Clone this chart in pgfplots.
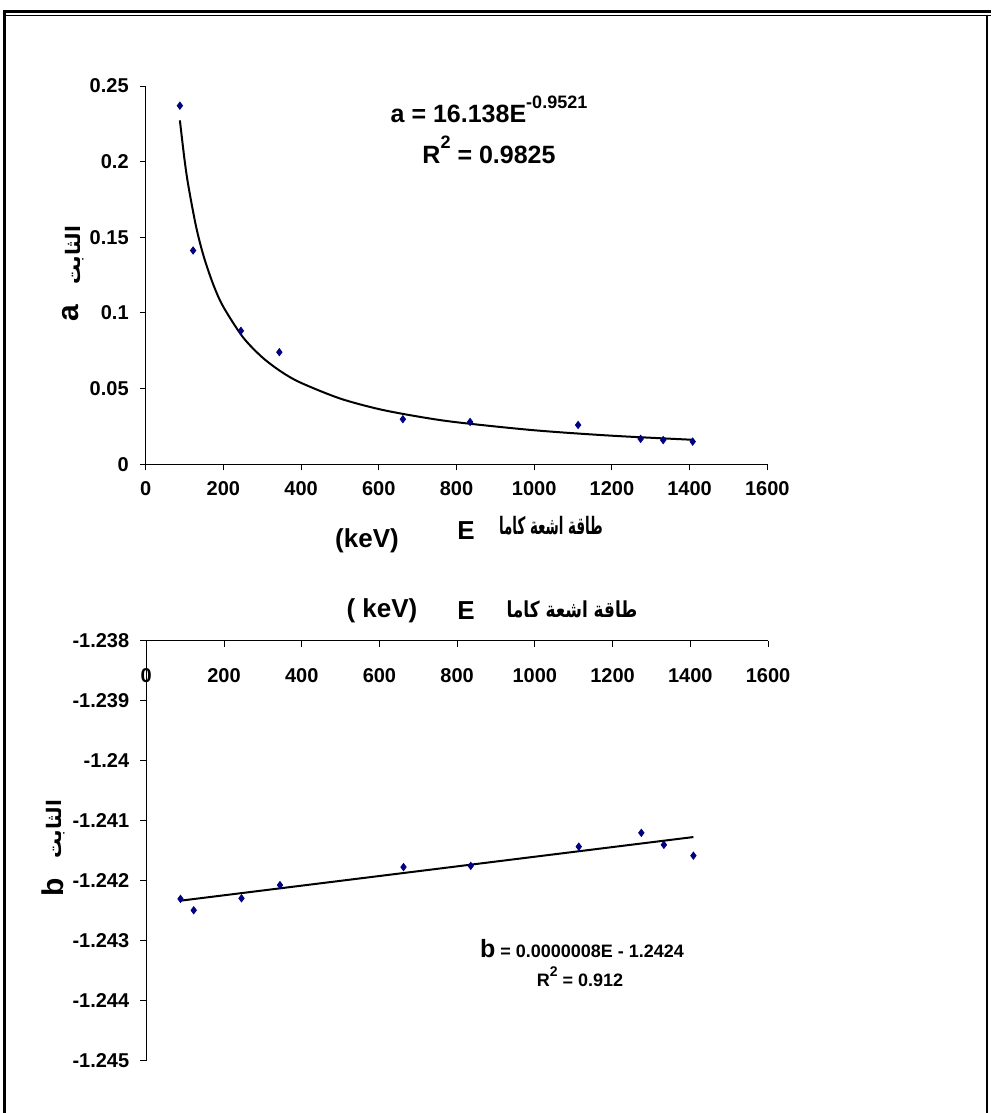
\documentclass[border=0pt]{standalone}
\usepackage{fontspec}
\setmainfont{Liberation Sans}
\newfontfamily\arabicfont[Script=Arabic]{DejaVu Sans}
\TeXXeTstate=1
\usepackage{graphicx}
\usepackage{pgfplots}
\pgfplotsset{compat=1.18}
\definecolor{navy}{RGB}{0,0,128}

\pgfplotsset{
  excel/.style={
    scale only axis,
    axis line style={line width=0.5pt},
    tick style={black, line width=0.5pt},
    major tick length=3pt,
    tick label style={font=\fontsize{10}{11}\selectfont\bfseries},
    /pgf/number format/assume math mode=true,
    xmin=0, xmax=1600,
    xtick={0,200,...,1600},
    xticklabels={0,200,400,600,800,1000,1200,1400,1600},
    clip=false,
  },
  pts/.style={only marks, mark=diamond*, mark size=1.8pt, color=navy},
  trend/.style={black, line width=1pt, mark=none},
}

\begin{document}
\begin{tikzpicture}[x=0.5pt,y=-0.5pt]
\path[use as bounding box] (0,0) rectangle (991,1113);
% frame
\draw[line width=1.6pt] (3,11.5) -- (991,11.5);
\draw[line width=0.5pt] (6,15.3) -- (991,15.3);
\draw[line width=1.6pt] (4.8,10) -- (4.8,1113);
\draw[line width=0.7pt] (987,15) -- (987,1113);

% upper chart: a vs E
\begin{axis}[excel,
  at={(72.85pt,-232.15pt)}, anchor=south west,
  width=310.8pt, height=189.15pt,
  axis x line*=bottom, axis y line*=left,
  ymin=0, ymax=0.25,
  ytick={0,0.05,0.1,0.15,0.2,0.25},
  yticklabels={0,0.05,0.1,0.15,0.2,0.25},
  tick align=outside,
  xticklabel style={yshift=-2pt},
  yticklabel style={xshift=-2pt},
]
\addplot[trend, smooth] coordinates {
  (88,0.2273) (100,0.2012) (110,0.1838) (130,0.1567) (150,0.1368)
  (175,0.1181) (200,0.1040) (250,0.0841) (300,0.0707) (350,0.0610)
  (400,0.0538) (500,0.0435) (600,0.0365) (700,0.0316) (800,0.0278)
  (1000,0.0225) (1200,0.0189) (1408,0.0162)};
\addplot[pts] coordinates {
  (88,0.237) (122,0.1413) (245,0.0882) (344,0.0741) (662,0.0298)
  (835,0.028) (1113,0.026) (1274,0.0168) (1332,0.016) (1408,0.015)};
\end{axis}

% lower chart: b vs E
\begin{axis}[excel,
  at={(73.15pt,-320.35pt)}, anchor=north west,
  width=310.85pt, height=210.15pt,
  axis x line*=top, axis y line*=left,
  ymin=-1.245, ymax=-1.238,
  ytick={-1.245,-1.244,-1.243,-1.242,-1.241,-1.24,-1.239,-1.238},
  yticklabels={-1.245,-1.244,-1.243,-1.242,-1.241,-1.24,-1.239,-1.238},
  ytick align=outside, xtick align=inside,
  xticklabel style={anchor=north, yshift=-10.5pt},
  yticklabel style={xshift=-2pt},
]
\addplot[trend] coordinates {(88,-1.24233) (1408,-1.24127)};
\addplot[pts] coordinates {
  (88,-1.2423) (122,-1.24249) (245,-1.24229) (344,-1.24207) (662,-1.24177)
  (835,-1.24175) (1113,-1.24143) (1274,-1.2412) (1332,-1.2414) (1408,-1.24158)};
\end{axis}

% equation labels
\node[anchor=base, font=\fontsize{12.5}{14}\selectfont\bfseries] at (489,123)
  {a = 16.138E\raisebox{1.1ex}{\fontsize{9}{10}\selectfont -0.9521}};
\node[anchor=base, font=\fontsize{12.5}{14}\selectfont\bfseries] at (489,163)
  {R\raisebox{1.1ex}{\fontsize{9}{10}\selectfont 2} = 0.9825};
\node[anchor=base, font=\fontsize{9}{11}\selectfont\bfseries] at (582,957)
  {{\fontsize{12.5}{14}\selectfont b} = 0.0000008E - 1.2424};
\node[anchor=base, font=\fontsize{9}{11}\selectfont\bfseries] at (580,986)
  {R\raisebox{1ex}{\fontsize{7}{8}\selectfont 2} = 0.912};

% axis titles
\node[font=\fontsize{13}{15}\selectfont\bfseries] at (367,541) {(keV)};
\node[font=\fontsize{13}{15}\selectfont\bfseries] at (466,531) {E};
\node[font=\fontsize{12}{14}\selectfont\bfseries] at (551,526)
  {\scalebox{0.56}[1]{\arabicfont\beginR طاقة اشعة كاما\endR}};

\node[font=\fontsize{13}{15}\selectfont\bfseries] at (382,611) {( keV)};
\node[font=\fontsize{13}{15}\selectfont\bfseries] at (466,611) {E};
\node[font=\fontsize{11}{13}\selectfont\bfseries] at (572,609)
  {\scalebox{0.77}[1]{\arabicfont\beginR طاقة اشعة كاما\endR}};

\node[rotate=90, font=\fontsize{15}{17}\selectfont\bfseries] at (71,313) {a};
\node[rotate=90, font=\fontsize{10}{12}\selectfont\bfseries] at (75,255) {\arabicfont\beginR الثابت\endR};
\node[rotate=90, font=\fontsize{15}{17}\selectfont\bfseries] at (53,887) {b};
\node[rotate=90, font=\fontsize{10}{12}\selectfont\bfseries] at (56,829) {\arabicfont\beginR الثابت\endR};
\end{tikzpicture}
\end{document}
